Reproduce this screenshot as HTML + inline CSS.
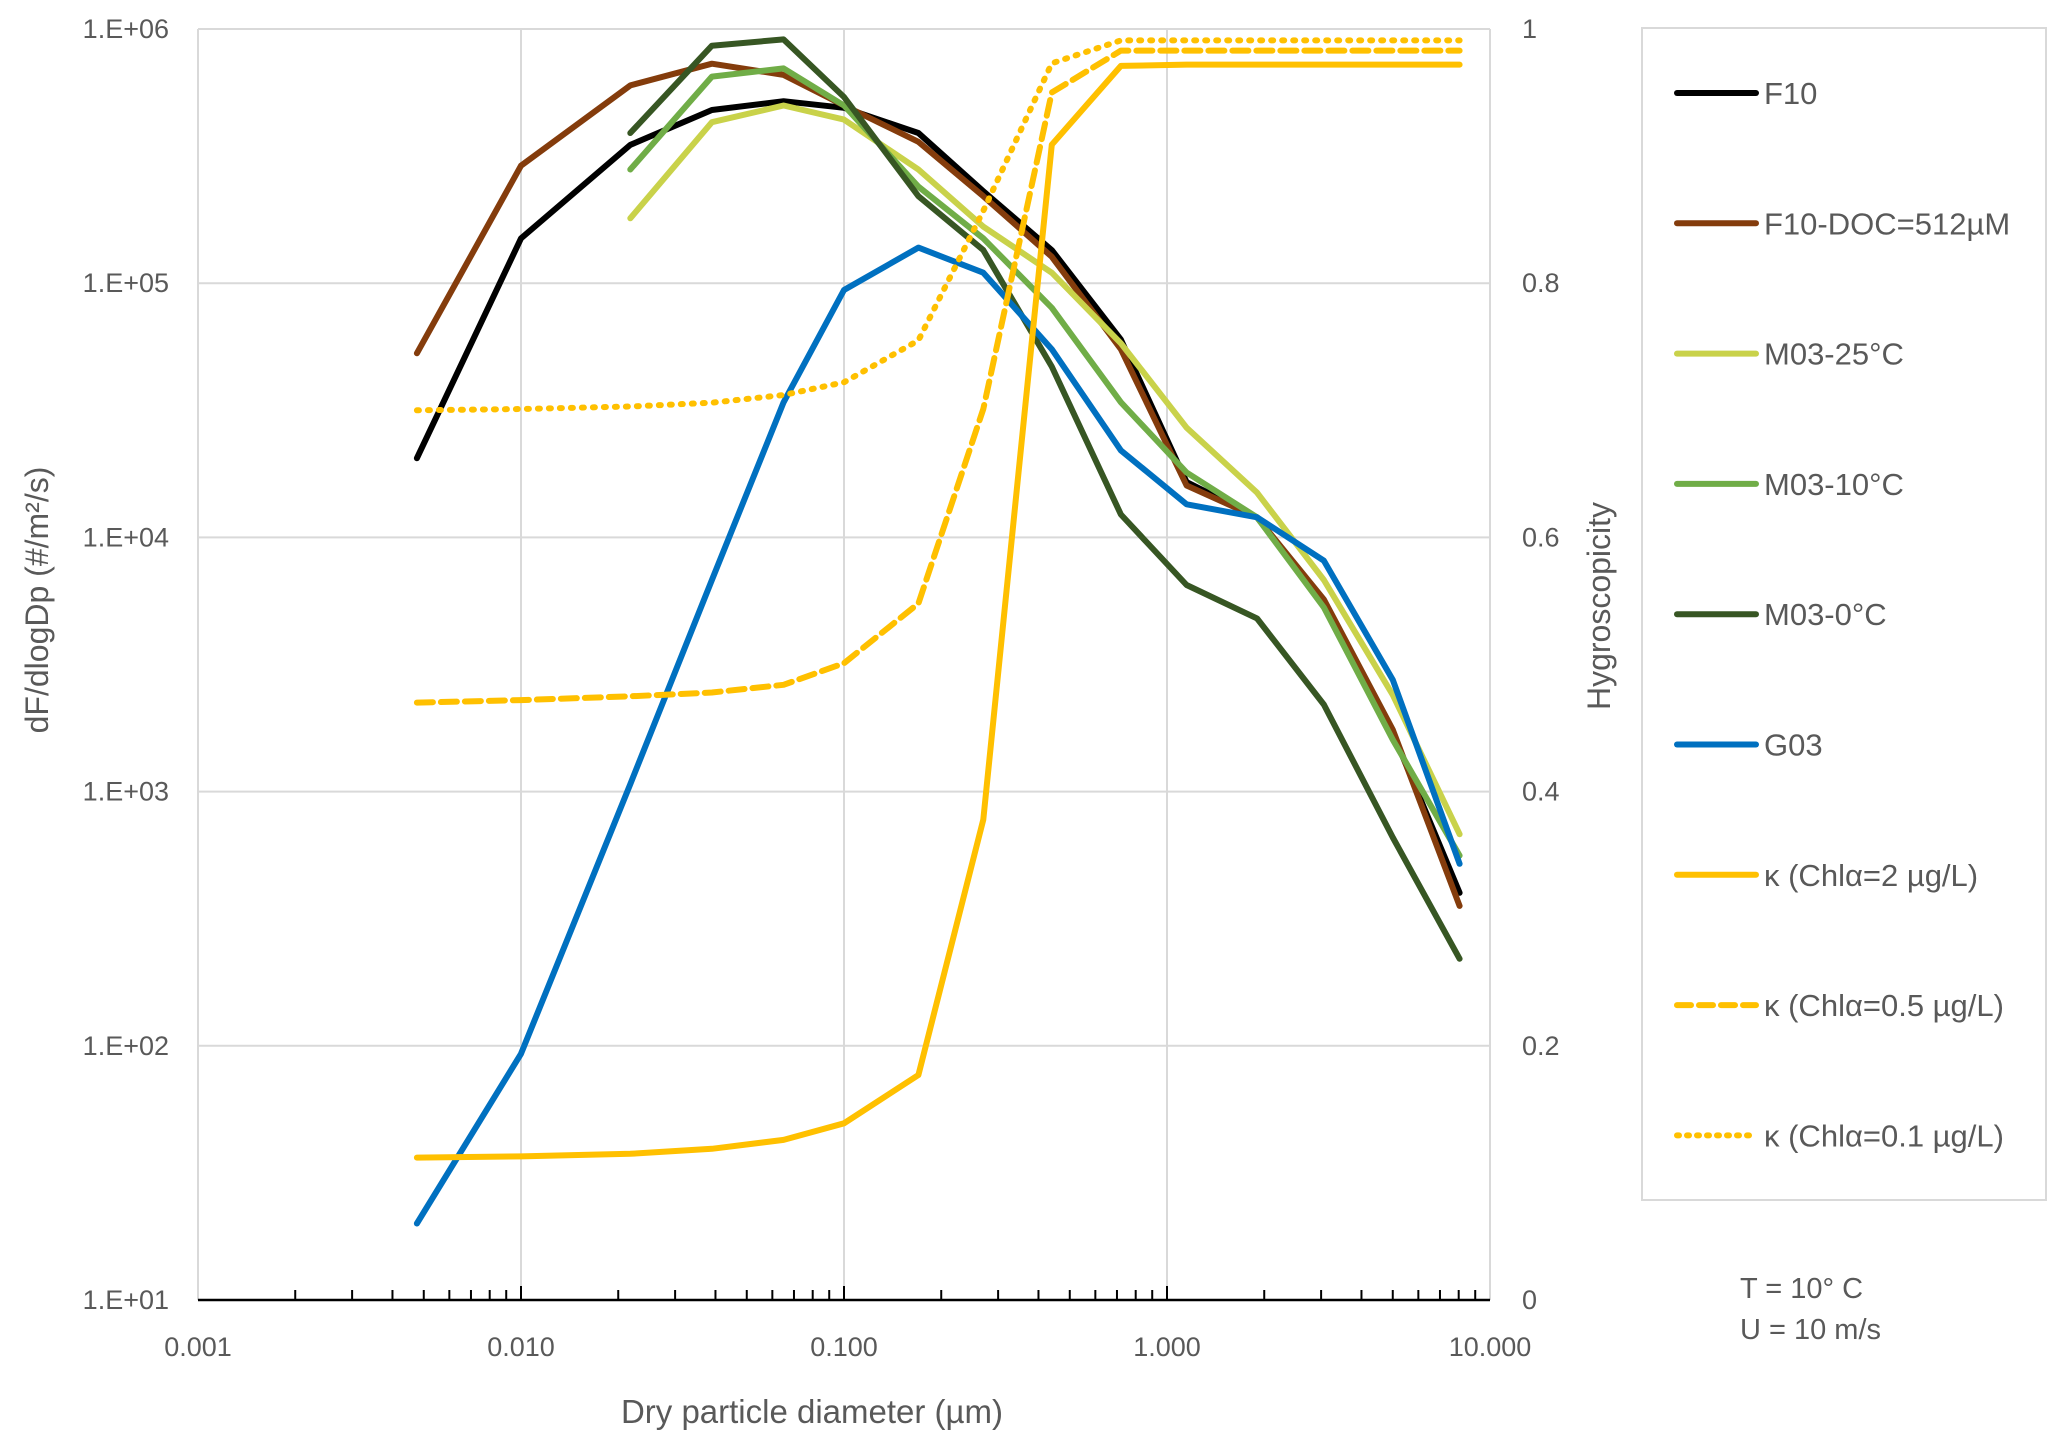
<!DOCTYPE html>
<html><head><meta charset="utf-8">
<style>
html,body{margin:0;padding:0;background:#fff;}
svg{display:block;font-family:"Liberation Sans",sans-serif;}
</style></head>
<body>
<svg id="chart" width="2067" height="1446" viewBox="0 0 2067 1446" xmlns="http://www.w3.org/2000/svg">
<g id="grid"></g>
<g id="axes"></g>
<g id="series"></g>
<g id="legend"></g>
<text x="0" y="0" transform="translate(48,600) rotate(-90)" text-anchor="middle" font-size="32" fill="#595959">dF/dlogDp (#/m²/s)</text>
<text x="0" y="0" transform="translate(1610,606) rotate(-90)" text-anchor="middle" font-size="32" fill="#595959">Hygroscopicity</text>
<text x="812" y="1423" text-anchor="middle" font-size="33" fill="#595959">Dry  particle diameter (µm)</text>
<text x="1740" y="1298" font-size="29" fill="#595959">T = 10° C</text>
<text x="1740" y="1339" font-size="29" fill="#595959">U = 10 m/s</text>
</svg>
<script>
const diam = [0.00476,0.01,0.0218,0.039,0.065,0.1,0.17,0.27,0.44,0.72,1.15,1.9,3.06,5.0,8.05];
const seriesNames = ["F10","F10-DOC=512µM","M03-25°C","M03-10°C","M03-0°C","G03"];
const f10 = [20500,150000,350000,480000,520000,490000,390000,230000,135000,60000,16500,12000,5600,1700,400];
const f10doc = [53000,290000,600000,730000,660000,500000,360000,220000,127000,55000,16000,12000,5700,1750,355];
const m03_25 = [null,null,180000,430000,500000,440000,280000,167000,110000,58000,27000,15000,6800,2400,680];
const m03_10 = [null,null,280000,650000,700000,500000,240000,150000,80000,34000,18000,12000,5300,1600,560];
const m03_0 = [null,null,390000,860000,910000,540000,220000,135000,47000,12300,6500,4800,2200,660,220];
const g03 = [20,93,1070,6800,34000,94000,138000,110000,55000,22000,13500,12000,8100,2750,520];
const kappa2 = [0.112,0.113,0.115,0.119,0.126,0.139,0.177,0.378,0.909,0.971,0.972,0.972,0.972,0.972,0.972];
const kappa05 = [0.470,0.472,0.475,0.478,0.484,0.501,0.548,0.701,0.950,0.983,0.983,0.983,0.983,0.983,0.983];
const kappa01 = [0.700,0.701,0.703,0.706,0.712,0.722,0.755,0.857,0.973,0.991,0.991,0.991,0.991,0.991,0.991];
const yTicks = ["1.E+01","1.E+02","1.E+03","1.E+04","1.E+05","1.E+06"];
const y2Ticks = ["0","0.2","0.4","0.6","0.8","1"];
const xTicks = ["0.001","0.010","0.100","1.000","10.000"];

const NS="http://www.w3.org/2000/svg";
const L=198,R=1490,T=29,B=1300;
function xs(d){return L+(Math.log10(d)+3)/4*(R-L);}
function ys(v){return B-(Math.log10(v)-1)/5*(B-T);}
function y2s(k){return B-k*(B-T);}
function mk(tag,attrs,parent){const e=document.createElementNS(NS,tag);for(const k in attrs)e.setAttribute(k,attrs[k]);parent.appendChild(e);return e;}
const grid=document.getElementById('grid'),axes=document.getElementById('axes'),ser=document.getElementById('series'),leg=document.getElementById('legend');

yTicks.forEach((t,i)=>{
  const y=ys(Math.pow(10,i+1));
  if(i>0){const g=mk('line',{x1:L,x2:R,y1:y,y2:y,stroke:'#d9d9d9','stroke-width':2},grid);
  
  }
  const tx=mk('text',{x:L-29,y:y+9,'text-anchor':'end','font-size':27,fill:'#595959'},axes);tx.textContent=t;
  
  
});
y2Ticks.forEach((t,i)=>{
  const y=y2s(i*0.2);
  const tx=mk('text',{x:R+32,y:y+9,'font-size':27,fill:'#595959'},axes);tx.textContent=t;
  
  
});
xTicks.forEach((t,i)=>{
  const x=xs(Math.pow(10,i-3));
  if(i>0){const g=mk('line',{x1:x,x2:x,y1:T,y2:B,stroke:'#d9d9d9','stroke-width':2},grid);
  
  }
  const tx=mk('text',{x:x,y:B+56,'text-anchor':'middle','font-size':27,fill:'#595959'},axes);tx.textContent=t;
  
  
  if(i<4){for(let m=2;m<=9;m++){const xm=xs(m*Math.pow(10,i-3));
    const tk=mk('line',{x1:xm,x2:xm,y1:B,y2:B-10,stroke:'#000','stroke-width':2},axes);
    
    }}
  const tk=mk('line',{x1:x,x2:x,y1:B,y2:B-14,stroke:'#000','stroke-width':2},axes);
  
  
});
const la=mk('line',{x1:L,x2:L,y1:T,y2:B,stroke:'#d9d9d9','stroke-width':2},axes);


const ra=mk('line',{x1:R,x2:R,y1:T,y2:B,stroke:'#d9d9d9','stroke-width':2},axes);


const ba=mk('line',{x1:L,x2:R,y1:B,y2:B,stroke:'#000','stroke-width':2.5},axes);



const defs=[
 {vals:f10,name:seriesNames[0],color:'#000000',dash:'',id:'f10'},
 {vals:f10doc,name:seriesNames[1],color:'#843c0c',dash:'',id:'f10-doc'},
 {vals:m03_25,name:seriesNames[2],color:'#c9d24a',dash:'',id:'m03-25c'},
 {vals:m03_10,name:seriesNames[3],color:'#70ad47',dash:'',id:'m03-10c'},
 {vals:m03_0,name:seriesNames[4],color:'#375623',dash:'',id:'m03-0c'},
 {vals:g03,name:seriesNames[5],color:'#0070c0',dash:'',id:'g03'},
 {vals:kappa2,name:'κ (Chlα=2  µg/L)',color:'#ffc000',dash:'',k:true,id:'kappa-2'},
 {vals:kappa05,name:'κ (Chlα=0.5  µg/L)',color:'#ffc000',dash:'16 8',k:true,id:'kappa-0-5'},
 {vals:kappa01,name:'κ (Chlα=0.1 µg/L)',color:'#ffc000',dash:'2 9',k:true,id:'kappa-0-1'}
];
defs.forEach(s=>{
  let d='';let started=false;
  s.vals.forEach((v,i)=>{if(v==null)return;const x=xs(diam[i]),y=s.k?y2s(v):ys(v);d+=(started?'L':'M')+x.toFixed(1)+','+y.toFixed(1);started=true;});
  const p=mk('path',{d:d,fill:'none',stroke:s.color,'stroke-width':6,'stroke-linejoin':'round','stroke-linecap':'round'},ser);
  if(s.dash)p.setAttribute('stroke-dasharray',s.dash);
  
  
});

const box=mk('rect',{x:1642,y:28,width:404,height:1172,fill:'#fff',stroke:'#d9d9d9','stroke-width':2},leg);


defs.forEach((s,i)=>{
  const y=93+i*130.3;
  const g=mk('g',{},leg);
  
  
  const ln=mk('line',{x1:1677,x2:1756,y1:y,y2:y,stroke:s.color,'stroke-width':6,'stroke-linecap':'round'},g);
  if(s.dash)ln.setAttribute('stroke-dasharray',s.dash==='2 9'?'2 8':'14 8');
  const tx=mk('text',{x:1764,y:y+11,'font-size':31,fill:'#595959'},g);tx.textContent=s.name;
});
</script>
</body></html>
